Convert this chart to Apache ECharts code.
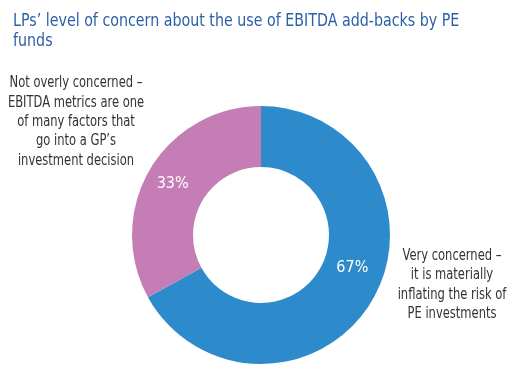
<!DOCTYPE html>
<html><head><meta charset="utf-8">
<script src="https://cdn.jsdelivr.net/npm/echarts@6/dist/echarts.min.js"></script>
<style>html,body{margin:0;padding:0;background:#fff}#c{width:532px;height:374px}</style>
</head><body><div id="c"></div>
<script>
const titleText = "LPs\u2019 level of concern about the use of EBITDA add-backs by PE\nfunds";
const categories = [
  "Very concerned \u2013\nit is materially\ninflating the risk of\nPE investments",
  "Not overly concerned \u2013\nEBITDA metrics are one\nof many factors that\ngo into a GP\u2019s\ninvestment decision"
];
const values = [67, 33];
const colors = ["#2E8BCB", "#C57DB5"];
const FONT = "'Liberation Sans Narrow', 'DejaVu Sans Condensed', sans-serif";

const chart = echarts.init(document.getElementById('c'), null, {renderer: 'canvas'});
chart.setOption({
  backgroundColor: '#fff',
  animation: false,
  graphic: [
    {type: 'text', x: 13, y: 11, scaleX: 0.88,
     style: {text: titleText, fill: '#2C5FA7', font: "18px " + FONT, lineHeight: 20, align: 'left', verticalAlign: 'top'}},
    {type: 'text', x: 452, y: 246, scaleX: 0.8,
     style: {text: categories[0], fill: '#333', font: "16px " + FONT, lineHeight: 19.5, align: 'center', verticalAlign: 'top'}},
    {type: 'text', x: 76, y: 73.5, scaleX: 0.8,
     style: {text: categories[1], fill: '#333', font: "16px " + FONT, lineHeight: 19.3, align: 'center', verticalAlign: 'top'}}
  ],
  series: [{
    type: 'pie',
    center: [261, 235],
    radius: [68, 129],
    startAngle: 90,
    clockwise: true,
    silent: true,
    labelLine: {show: false},
    data: values.map((v, i) => ({
      value: v, name: categories[i],
      itemStyle: {color: colors[i]},
      label: {offset: i === 0 ? [4, -19] : [-1, 1]}
    })),
    label: {
      show: true, position: 'inside', formatter: '{c}%',
      color: '#fff', fontFamily: FONT, fontSize: 16, fontWeight: 'normal'
    }
  }]
});
</script></body></html>
